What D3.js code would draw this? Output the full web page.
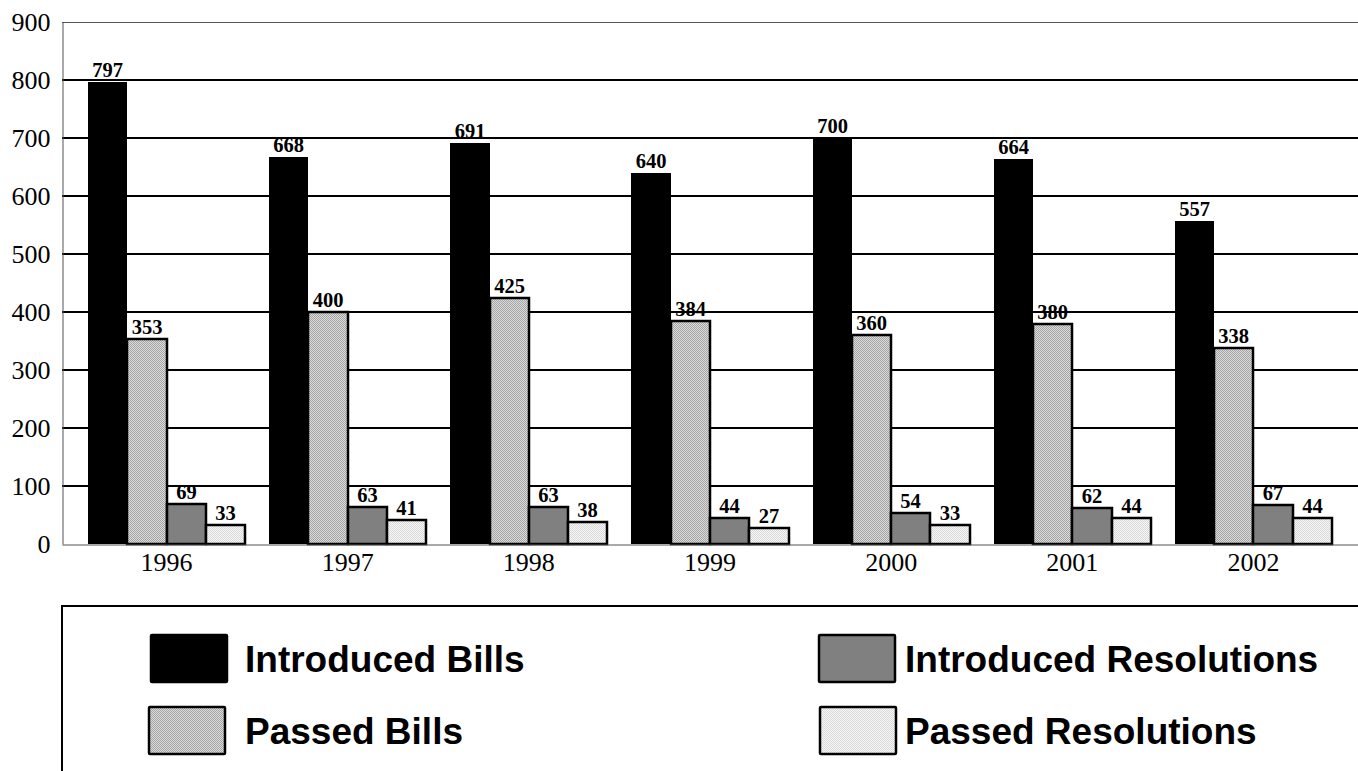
<!DOCTYPE html>
<html>
<head>
<meta charset="utf-8">
<script src="https://cdn.jsdelivr.net/npm/d3@7"></script>
<style>
  body { margin: 0; background: #fff; }
  svg { display: block; }
</style>
</head>
<body>
<svg width="1358" height="771"></svg>
<script>
// Bills and resolutions per year

const years = ['1996', '1997', '1998', '1999', '2000', '2001', '2002'];
const introducedBills = [797, 668, 691, 640, 700, 664, 557];
const passedBills = [353, 400, 425, 384, 360, 380, 338];
const introducedResolutions = [69, 63, 63, 44, 54, 62, 67];
const passedResolutions = [33, 41, 38, 27, 33, 44, 44];
const seriesNames = ['Introduced Bills', 'Passed Bills', 'Introduced Resolutions', 'Passed Resolutions'];
const yTicks = [0, 100, 200, 300, 400, 500, 600, 700, 800, 900];

const series = [introducedBills, passedBills, introducedResolutions, passedResolutions];

const width = 1358;
const height = 771;
const plot = { left: 62, right: 1358, top: 22, bottom: 544 };
const serif = '"Liberation Serif", "Times New Roman", serif';

const svg = d3.select('svg');
const defs = svg.append('defs');

// dithered fills for the grey series (1px checkerboard)
function dither(id, dark, light) {
  const p = defs.append('pattern')
    .attr('id', id)
    .attr('width', 2).attr('height', 2)
    .attr('patternUnits', 'userSpaceOnUse');
  p.append('rect').attr('width', 2).attr('height', 2).attr('fill', light);
  p.append('rect').attr('width', 1).attr('height', 1).attr('fill', dark);
  p.append('rect').attr('x', 1).attr('y', 1).attr('width', 1).attr('height', 1).attr('fill', dark);
}
dither('passedBills', '#a4a4a4', '#dcdcdc');
dither('passedRes', '#d8d8d8', '#f8f8f8');

const fills = ['#000', 'url(#passedBills)', '#808080', 'url(#passedRes)'];

const x = d3.scaleBand()
  .domain(years)
  .range([plot.left, plot.right])
  .paddingInner(0.1326)
  .paddingOuter(0.1436);

const xInner = d3.scaleBand()
  .domain(d3.range(series.length))
  .range([0, x.bandwidth()]);

const y = d3.scaleLinear()
  .domain([0, 900])
  .range([plot.bottom, plot.top]);

// grid lines
svg.append('g')
  .selectAll('line')
  .data(yTicks.filter(d => d > 0 && d < 900))
  .enter().append('line')
  .attr('x1', plot.left).attr('x2', plot.right)
  .attr('y1', d => Math.round(y(d))).attr('y2', d => Math.round(y(d)))
  .attr('stroke', '#000')
  .attr('stroke-width', 2);

// top of the plot frame
svg.append('line')
  .attr('x1', plot.left).attr('x2', plot.right)
  .attr('y1', y(900) + 0.5).attr('y2', y(900) + 0.5)
  .attr('stroke', '#555').attr('stroke-width', 1);

// y axis
const yAxis = svg.append('g')
  .attr('transform', `translate(${plot.left + 0.5},0)`)
  .call(d3.axisLeft(y).tickValues(yTicks).tickSize(0).tickPadding(12));
yAxis.select('.domain').attr('stroke', '#555');
yAxis.selectAll('text')
  .style('font-family', serif)
  .style('font-size', '26px')
  .attr('fill', '#000');

// bars
const bars = svg.append('g');
years.forEach((year, i) => {
  series.forEach((values, s) => {
    const v = values[i];
    const x0 = Math.round(x(year) + xInner(s));
    const x1 = Math.round(x(year) + xInner(s) + xInner.bandwidth());
    const y0 = Math.round(y(v));
    bars.append('rect')
      .attr('x', x0)
      .attr('y', y0)
      .attr('width', x1 - x0)
      .attr('height', Math.round(y(0)) - y0)
      .attr('fill', fills[s])
      .attr('stroke', s === 0 ? 'none' : '#000')
      .attr('stroke-width', 2.5);
    bars.append('text')
      .attr('x', (x0 + x1) / 2)
      .attr('y', y0 - 5)
      .attr('text-anchor', 'middle')
      .style('font-family', serif)
      .style('font-weight', 'bold')
      .style('font-size', '20.5px')
      .text(v);
  });
});

// x axis
const xAxis = svg.append('g')
  .attr('transform', `translate(0,${plot.bottom + 0.5})`)
  .call(d3.axisBottom(x).tickSize(0).tickPadding(8));
xAxis.select('.domain').attr('stroke', '#555').attr('stroke-width', 1);
xAxis.selectAll('text')
  .style('font-family', serif)
  .style('font-size', '26px')
  .attr('fill', '#000');

// legend box
const legend = svg.append('g');
legend.append('path')
  .attr('d', `M${plot.left},${height} V606 H${width}`)
  .attr('fill', 'none')
  .attr('stroke', '#000')
  .attr('stroke-width', 2);

const legendPos = [
  { x: 151, y: 635, tx: 245 },
  { x: 149, y: 707, tx: 245 },
  { x: 819, y: 635, tx: 905 },
  { x: 820, y: 707, tx: 905 }
];

seriesNames.forEach((name, s) => {
  const p = legendPos[s];
  legend.append('rect')
    .attr('x', p.x).attr('y', p.y)
    .attr('width', 76).attr('height', 47)
    .attr('rx', 1)
    .attr('fill', fills[s])
    .attr('stroke', '#000')
    .attr('stroke-width', 2.5);
  legend.append('text')
    .attr('x', p.tx)
    .attr('y', p.y + 37)
    .style('font-family', '"Liberation Sans", Arial, sans-serif')
    .style('font-weight', 'bold')
    .style('font-size', '37px')
    .text(name);
});
</script>
</body>
</html>
